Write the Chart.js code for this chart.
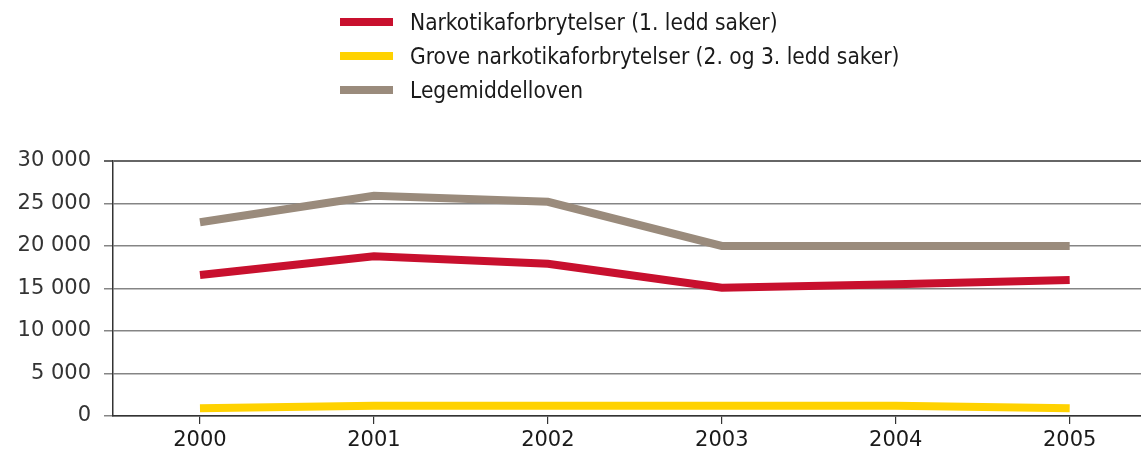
<!DOCTYPE html>
<html>
<head>
<meta charset="utf-8">
<script src="https://cdn.jsdelivr.net/npm/chart.js@4"></script>
<style>
    body { margin: 0; background: #fff; }
    #wrap { position: relative; width: 1141px; height: 459px; }
    #legend { position: absolute; left: 340px; top: 5px; font-family: "DejaVu Sans Condensed", "DejaVu Sans", sans-serif; font-size: 22.5px; color: #1a1a1a; }
    .item { display: flex; align-items: center; height: 34px; }
    .swatch { width: 53px; height: 8px; margin-right: 17px; }
</style>
</head>
<body>
<div id="wrap">
    <canvas id="chart" width="1141" height="459"></canvas>
    <div id="legend"></div>
</div>
<script>
// ===== Data =====
const years = [2000, 2001, 2002, 2003, 2004, 2005];
const seriesNames = [
    'Narkotikaforbrytelser (1. ledd saker)',
    'Grove narkotikaforbrytelser (2. og 3. ledd saker)',
    'Legemiddelloven'
];
const narkotika = [16600, 18800, 17900, 15100, 15500, 16000];
const grove = [900, 1200, 1200, 1200, 1200, 900];
const legemiddel = [22800, 25900, 25200, 20000, 20000, 20000];
const yTicks = [0, 5000, 10000, 15000, 20000, 25000, 30000];
const colors = ['#c8102e', '#ffd200', '#9a8b7c'];

function toPoints(values) {
    return values.map((v, i) => ({ x: years[i], y: v }));
}

function formatNumber(v) {
    return String(v).replace(/\B(?=(\d{3})+(?!\d))/g, ' ');
}

const datasets = [narkotika, grove, legemiddel].map((values, i) => ({
    label: seriesNames[i],
    data: toPoints(values),
    borderColor: colors[i],
    backgroundColor: colors[i],
    borderWidth: 8,
    borderCapStyle: 'butt',
    borderJoinStyle: 'miter',
    pointRadius: 0,
    tension: 0
}));

// ===== Chart =====
new Chart(document.getElementById('chart'), {
    type: 'line',
    data: { datasets: datasets },
    options: {
        responsive: false,
        animation: false,
        layout: { padding: { top: 161, right: 0, left: 0, bottom: 0 } },
        plugins: {
            legend: { display: false },
            tooltip: { enabled: false }
        },
        scales: {
            x: {
                type: 'linear',
                min: 1999.5,
                max: 2005.41,
                afterBuildTicks: (axis) => {
                    axis.ticks = years.map(y => ({ value: y }));
                },
                afterFit: (axis) => { axis.height = 43; },
                grid: {
                    drawOnChartArea: false,
                    drawTicks: true,
                    tickLength: 8,
                    color: '#333',
                    lineWidth: 1.2
                },
                border: { color: '#333', width: 1.5 },
                ticks: {
                    padding: 4,
                    color: '#1a1a1a',
                    font: { family: 'DejaVu Sans', size: 21 },
                    callback: (v) => String(v),
                    maxRotation: 0
                }
            },
            y: {
                min: 0,
                max: 30000,
                afterBuildTicks: (axis) => {
                    axis.ticks = yTicks.map(v => ({ value: v }));
                },
                afterFit: (axis) => { axis.width = 113; },
                grid: {
                    color: (ctx) => ctx.tick && ctx.tick.value === 30000 ? '#666' : '#858585',
                    lineWidth: (ctx) => ctx.tick && ctx.tick.value === 30000 ? 2 : 1.5,
                    tickLength: 9
                },
                border: { color: '#333', width: 1.5 },
                ticks: {
                    padding: 13,
                    color: '#333',
                    font: { family: 'DejaVu Sans', size: 21 },
                    callback: (v) => formatNumber(v)
                }
            }
        }
    }
});

// ===== Legend =====
const legendDiv = document.getElementById('legend');
seriesNames.forEach((name, i) => {
    legendDiv.insertAdjacentHTML('beforeend',
        `<div class="item"><span class="swatch" style="background:${colors[i]}"></span><span>${name}</span></div>`);
});
</script>
</body>
</html>
